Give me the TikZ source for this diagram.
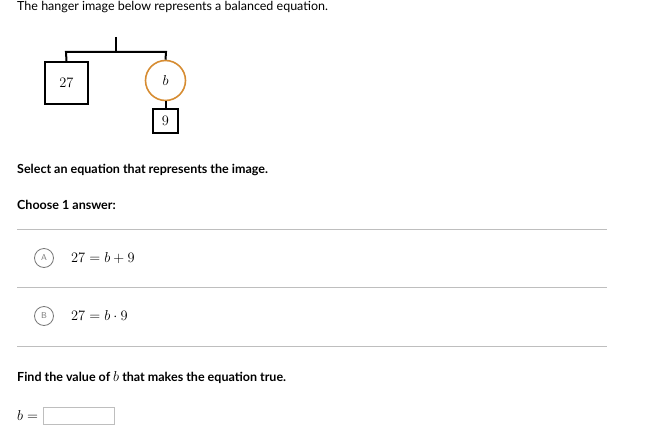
\documentclass[tikz,border=0pt]{standalone}
\usepackage{fontspec}
\setmainfont{Lato}
\definecolor{hangorange}{RGB}{214,140,50}
\definecolor{rulegray}{RGB}{190,190,190}
\definecolor{lettergray}{RGB}{120,120,120}
\newcommand{\txt}{\fontsize{12.5}{15}\selectfont}
\newcommand{\mth}{\fontsize{15}{16}\selectfont}

\begin{document}
\begin{tikzpicture}
                \tikzset{x=1pt, y=-1pt}
                \tikzstyle{line}=[draw, line width=2pt]
                \tikzstyle{weight}=[rectangle, draw, line width=1.6pt, inner sep=0pt]
                \tikzstyle{unknown}=[circle, draw=hangorange, line width=1.6pt, minimum size=40pt, inner sep=0pt]
                \tikzstyle{para}=[anchor=base west, inner sep=0pt, font=\txt]
                \tikzstyle{head}=[para, font=\txt\bfseries]
                \tikzstyle{choice}=[circle, draw=lettergray, line width=0.8pt, minimum size=19pt, inner sep=0pt, text=lettergray, font=\fontsize{8.5}{9}\selectfont\sffamily]
                \tikzstyle{sep}=[draw=rulegray, line width=1pt]

                \useasboundingbox (0,0) rectangle (660,441);

                \draw (17, 11)      node[para]  (title) {The hanger image below represents a balanced equation.};

                % hanger
                \coordinate (top)   at (116, 37);
                \coordinate (mid)   at (116, 52);
                \coordinate (lbar)  at (66, 52);
                \coordinate (rbar)  at (166, 52);
                \draw (66.5, 83)    node[weight, minimum width=43pt, minimum height=42pt] (w27) {\mth$27$};
                \draw (165.5, 80.5) node[unknown]   (b)     {\mth$b$};
                \draw (165.5, 121)  node[weight, minimum width=25pt, minimum height=24pt] (w9) {\mth$9$};

                \draw [line]        (top) -- (mid);
                \draw [line]        (w27.north) -- (lbar) -- (rbar) -- (b.north);
                \draw [line]        (b.south) -- (w9.north);

                \draw (17, 173)     node[head]  (ask)   {Select an equation that represents the image.};
                \draw (17, 209)     node[head]  (choose) {Choose 1 answer:};

                % answers
                \coordinate (s1l) at (17, 229);   \coordinate (s1r) at (607, 229);
                \coordinate (s2l) at (17, 287);   \coordinate (s2r) at (607, 287);
                \coordinate (s3l) at (17, 346);   \coordinate (s3r) at (607, 346);
                \draw [sep]         (s1l) -- (s1r);
                \draw [sep]         (s2l) -- (s2r);
                \draw [sep]         (s3l) -- (s3r);

                \draw (44, 258)     node[choice] (ca)   {A};
                \draw (71, 262.5)   node[para]   (ea)   {\mth$27=b+9$};
                \draw (44, 316)     node[choice] (cb)   {B};
                \draw (71, 320.5)   node[para]   (eb)   {\mth$27=b\cdot 9$};

                \draw (17, 381)     node[head]  (find)  {Find the value of \mth$b$\txt\ that makes the equation true.};

                \draw (17, 420)     node[para]  (bis)   {\mth$b=$};
                \draw (78.5, 416)   node[rectangle, draw=rulegray, line width=1pt, minimum width=71pt, minimum height=17pt] (ans) {};
            \end{tikzpicture}
\end{document}
